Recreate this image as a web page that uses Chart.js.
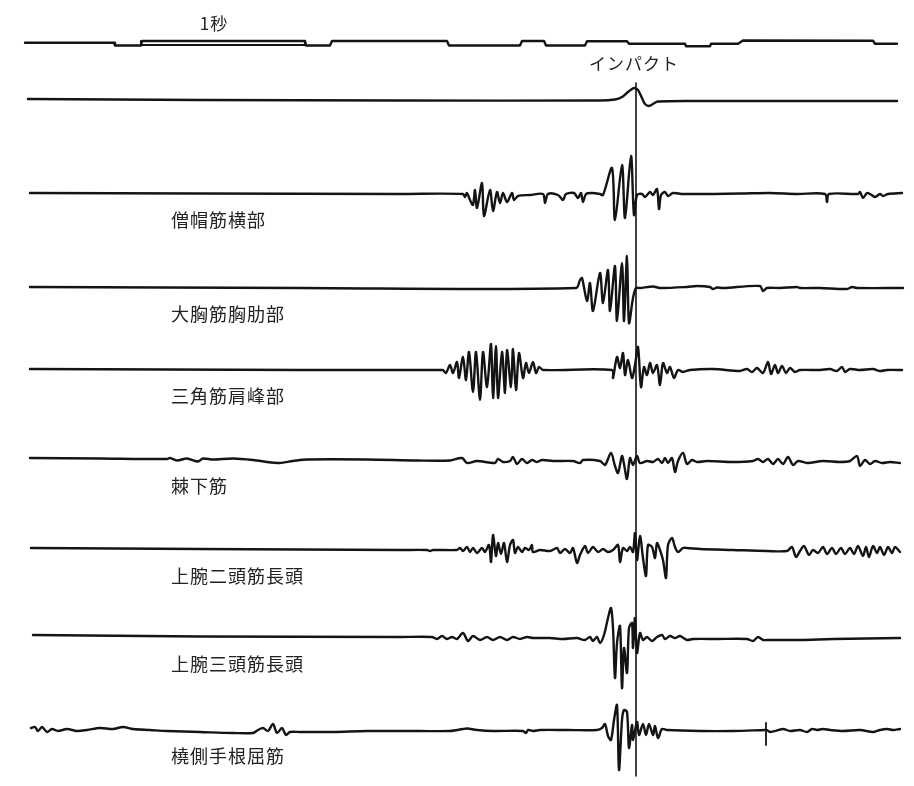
<!DOCTYPE html>
<html lang="ja">
<head>
<meta charset="utf-8">
<script src="https://cdn.jsdelivr.net/npm/chart.js@4.4.1/dist/chart.umd.min.js"></script>
<style>
html, body { margin: 0; padding: 0; background: #fff; }
#wrap { position: relative; width: 914px; height: 786px; }
.lbl { position: absolute; font-family: "Noto Sans CJK JP", sans-serif; font-size: 18px; color: #222;
       letter-spacing: 1px; white-space: nowrap; line-height: 1; transform: translateY(-50%); }
.ctr { transform: translate(-50%, -50%); letter-spacing: 1px; font-size: 17px; }
</style>
</head>
<body>
<div id="wrap"><canvas id="emg" width="914" height="786"></canvas></div>
<script>
/* 筋電図: [時間, 振幅] の組。振幅は上向きが正 */

var muscles = ['僧帽筋横部', '大胸筋胸肋部', '三角筋肩峰部', '棘下筋', '上腕二頭筋長頭', '上腕三頭筋長頭', '橈側手根屈筋'];
var impactAt = 636;

var timer = [[25,0.3],[114,0.3],[115,-2.5],[141,-2.5],[142,2],[305,2],[306,-2.5],[330,-2.5],[332,2],[447,2],[449,-2.5],
  [520,-2.5],[522,2],[544,2],[546,-2.5],[585,-2.5],[587,1.7],[627,1.7],[629,-0.7],[685,-0.7],[686,-3.3],[710,-3.3],
  [711,-0.7],[738,-0.7],[743,2.5],[873,2.2],[875,-0.7],[897,-0.7]];
var secondBar = [[141,2],[141,-2],[305,-2],[305,2]];

var impact = [[28,1],[200,0],[400,-0.5],[600,-0.5],[615,0.5],[622,3],[628,8],[634,12],[638,10],[642,2],[645,-4],
  [649,-6],[653,-4],[658,-1.5],[700,-1],[897,-1]];

var trapezius = [[30,1],[200,0.5],[400,0],[463,0],[465,-3],[467,1],[470,-6],[473,-11],[475,4],[477,-14],[482,11],[484,-22],
  [490,4],[493,-17],[497,2],[500,-9],[503,1],[507,-8],[512,1],[514,-6],[518,-2],[530,-1],[543,0],[545,-9],[548,0],[558,-1],
  [563,-6],[566,0],[574,1],[578,-4],[581,1],[583,-8],[586,0],[592,1],[600,0],[603,-1],[612,26],[615,-26],[622,29],[625,-24],
  [631,38],[634,-21],[637,-1],[642,0],[645,-3],[650,2],[653,-1],[657,5],[659,-15],[661,-1],[665,2],[668,-2],[673,1],[683,0],
  [740,0.5],[770,1],[797,0],[825,0],[827,-8],[829,0],[858,0],[860,2],[863,-4],[867,1],[870,0],[875,-3],[880,0],[883,-2],
  [888,0],[902,1]];

var pectoralis = [[30,1],[300,0],[576,0],[580,8],[582,10],[587,-13],[590,5],[593,-23],[600,15],[603,-15],[608,18],[610,-23],
  [615,22],[617,-33],[622,25],[624,-33],[627,32],[629,-35],[633,-10],[636,0],[640,0],[653,1.5],[660,0],[687,1],[697,2],
  [710,1],[713,-1],[717,0.5],[723,0],[760,2],[763,-3],[767,0],[780,0],[797,1],[800,0],[820,0],[847,-1],[852,1],[857,0],[903,0]];

var deltoid = [[30,1],[300,0],[441,0],[443,0],[446,-3],[450,5],[453,-3],[457,8],[459,-8],[463,13],[466,-10],[469,18],
  [473,-22],[476,18],[480,-30],[483,18],[487,-17],[491,26],[493,-28],[496,24],[498,-28],[502,18],[505,-23],[507,20],
  [511,-17],[513,21],[516,-20],[519,17],[523,-8],[526,7],[529,-3],[533,8],[536,-3],[539,3],[543,0],[612,0],[613,-8],
  [617,13],[620,2],[623,17],[625,-5],[628,10],[632,-8],[635,5],[638,23],[641,-17],[644,3],[647,-5],[650,7],[653,-3],
  [657,5],[660,-15],[663,7],[667,-3],[670,3],[674,-8],[678,0],[683,-2],[690,0],[713,1],[740,-1],[747,1],[752,-2],[757,2],
  [763,-3],[768,8],[771,-4],[775,5],[778,-3],[782,4],[786,-3],[790,2],[795,-2],[800,0],[820,0],[830,1],[837,-1],[842,3],
  [845,-2],[850,1],[860,0],[873,1],[880,-1],[887,0],[902,0]];

var infraspinatus = [[30,2],[100,1.5],[167,1],[170,2],[177,-0.5],[187,1.5],[198,-1.5],[203,1.5],[213,0.5],[233,1.5],
  [253,0],[277,-3],[293,-1],[307,0.5],[367,0.5],[417,-0.5],[450,-0.5],[462,2],[467,-3],[477,-1],[495,-3],[498,1],[503,-2],
  [510,-1],[513,3],[517,-4],[522,1],[527,-3],[532,0],[537,-2],[542,0],[553,-1],[573,-1],[580,-3],[583,0],[600,-1],[605,-5],
  [611,7],[615,-6],[618,-13],[622,4],[624,-4],[627,-19],[630,2],[633,-5],[637,4],[640,-3],[647,-1],[653,-2],[658,1],
  [662,-3],[665,2],[668,-3],[672,2],[675,-12],[678,-1],[683,7],[687,-4],[692,0],[697,-2],[707,-1],[733,-2],[753,-1],
  [758,1],[763,-2],[768,1],[773,-4],[778,1],[783,-4],[788,3],[793,-5],[798,-1],[807,-3],[823,-1],[840,-2],[850,-1],
  [857,4],[860,-6],[865,0],[870,-4],[875,-1],[882,-3],[890,-2],[900,-3]];

var biceps = [[31,2],[200,1],[400,0],[427,0],[430,-1],[433,0],[457,0],[460,2],[463,-1],[467,3],[470,-2],[473,2],[477,-3],
  [482,2],[485,-2],[489,5],[491,-12],[493,15],[496,-6],[498,7],[501,-4],[504,7],[507,-12],[510,5],[513,10],[515,-3],
  [518,3],[522,-2],[525,2],[529,0],[532,5],[533,-2],[540,0],[550,-1],[557,2],[560,-3],[565,1],[570,-3],[573,2],[577,-13],
  [580,-5],[585,4],[588,-3],[593,3],[598,-2],[603,1],[608,-2],[613,0],[618,5],[620,-12],[623,2],[627,-1],[630,3],[633,-2],
  [635,17],[637,-10],[640,14],[643,-8],[646,-26],[648,5],[652,3],[655,-8],[657,7],[660,0],[663,-10],[666,-28],[668,5],
  [672,12],[675,3],[678,-2],[683,2],[687,2],[700,1],[733,0],[767,-1],[787,-1],[792,3],[796,-7],[800,-1],[804,4],[809,-5],
  [813,0],[818,-3],[823,3],[827,-4],[832,2],[836,-4],[841,2],[845,-4],[850,2],[854,-4],[858,4],[863,-6],[866,3],[869,-7],
  [873,4],[877,-3],[880,3],[884,-5],[888,3],[892,-3],[895,3],[900,-2]];

var triceps = [[33,3],[200,1.5],[400,1],[432,1],[437,-1],[442,2],[447,-1],[452,1],[457,-1],[463,5],[468,-3],[473,2],
  [480,-2],[487,1],[493,-2],[500,1],[507,-2],[513,1],[520,-1],[527,1],[533,0],[550,0],[563,-1],[577,0],[585,-2],[590,1],
  [593,-3],[597,1],[600,-5],[604,3],[608,20],[611,30],[613,10],[615,-40],[617,-5],[620,12],[622,-50],[624,-10],[627,-35],
  [629,10],[632,15],[633,-10],[635,20],[637,-15],[640,5],[643,-2],[647,1],[652,-3],[657,1],[662,3],[665,-1],[670,2],
  [675,0],[680,2],[687,-2],[693,-1],[717,-1],[747,-1],[753,-3],[758,1],[763,-2],[767,-2],[800,-2],[833,-1],[900,0]];

var flexor = [[31,2],[35,3],[38,-1],[42,3],[47,-2],[52,1],[58,-1],[67,1],[77,-1],[87,0],[100,2],[113,1],[123,3],[133,1],
  [150,0],[167,-1],[200,-2],[233,-3],[253,-3],[258,0],[263,2],[268,-1],[273,6],[277,-3],[282,2],[286,-5],[290,-2],
  [300,-2],[333,-2],[367,-1],[420,-1],[450,-1],[463,1],[467,1.5],[477,0],[493,-1],[523,-1],[526,-3],[528,0],[533,-1],
  [540,0],[567,0],[597,0],[602,2],[605,6],[608,-6],[611,-10],[614,10],[617,25],[619,-40],[622,10],[624,20],[627,18],
  [629,-18],[632,5],[633,-10],[637,8],[639,-5],[643,6],[646,-5],[649,6],[653,-5],[655,4],[658,-8],[662,1],[667,0],
  [700,-1],[733,-1],[765,0],[767,0],[770,-2],[783,1],[790,-1],[800,0],[807,-2],[812,1],[817,0],
  [823,1],[830,0],[843,-1],[860,0],[873,-2],[880,0],[887,1],[893,0],[900,1]];
var flexorMark = [[766,7],[766,-15]];

/* ── 配置 ─────────────────────────────────────────── */
var traces = [timer, impact, trapezius, pectoralis, deltoid, infraspinatus, biceps, triceps, flexor];
var rowY   = [43, 100, 194, 288, 370, 460, 550, 638, 730];
var labelX = 171, labelGap = 25;

function toPts(arr, base) {
  return arr.map(function(p) { return { x: p[0], y: base - p[1] }; });
}
function line(pts, w, t) {
  return { data: pts, borderColor: '#141414', borderWidth: w, pointRadius: 0, tension: t, showLine: true,
           borderJoinStyle: 'round', borderCapStyle: 'round' };
}

var datasets = traces.map(function(t, i) {
  return line(toPts(t, rowY[i]), 2.4, i === 0 ? 0 : 0.3);
});
datasets.push(line(toPts(secondBar, rowY[0]), 2.2, 0));
datasets.push(line(toPts(flexorMark, rowY[8]), 1.8, 0));
datasets.push(line([{ x: impactAt, y: 83 }, { x: impactAt, y: 776 }], 1.6, 0));

/* ── ラベル ───────────────────────────────────────── */
var wrap = document.getElementById('wrap');
function addLabel(text, cls) {
  var d = document.createElement('div');
  d.className = 'lbl' + (cls ? ' ' + cls : '');
  d.textContent = text;
  wrap.appendChild(d);
  return d;
}
var secLbl = addLabel('1秒', 'ctr');
var impLbl = addLabel('インパクト', 'ctr');
var muscleLbls = muscles.map(function(m) { return addLabel(m); });

var labelPlugin = {
  id: 'labels',
  afterRender: function(chart) {
    var sx = chart.scales.x, sy = chart.scales.y;
    secLbl.style.left = sx.getPixelForValue(214) + 'px';
    secLbl.style.top = sy.getPixelForValue(22) + 'px';
    impLbl.style.left = sx.getPixelForValue(634) + 'px';
    impLbl.style.top = sy.getPixelForValue(62) + 'px';
    muscleLbls.forEach(function(el, i) {
      el.style.left = sx.getPixelForValue(labelX) + 'px';
      el.style.top = sy.getPixelForValue(rowY[i + 2] + labelGap) + 'px';
    });
  }
};

new Chart(document.getElementById('emg'), {
  type: 'scatter',
  data: { datasets: datasets },
  options: {
    responsive: false, animation: false,
    layout: { padding: 0 },
    plugins: { legend: { display: false }, tooltip: { enabled: false } },
    scales: {
      x: { type: 'linear', min: 0, max: 914, display: false },
      y: { type: 'linear', min: 0, max: 786, reverse: true, display: false }
    }
  },
  plugins: [labelPlugin]
});
</script>
</body>
</html>
